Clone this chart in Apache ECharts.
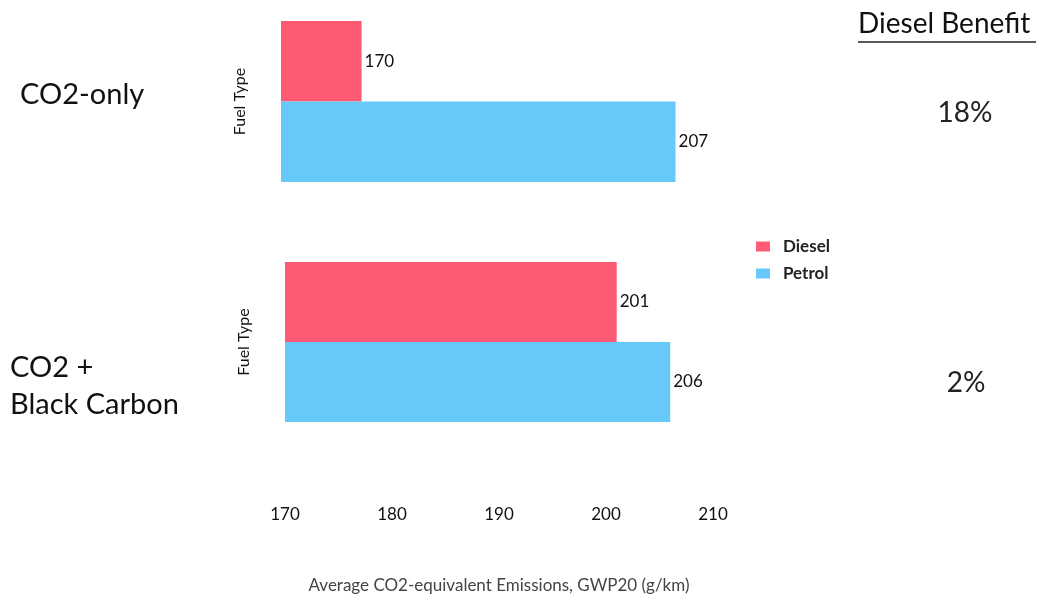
<!DOCTYPE html>
<html>
<head>
<meta charset="utf-8">
<script src="https://cdn.jsdelivr.net/npm/echarts@6/dist/echarts.min.js"></script>
<style>
  html, body { margin: 0; padding: 0; background: #fff; }
  #chart { width: 1041px; height: 597px; }
</style>
</head>
<body>
<div id="chart"></div>
<script>
// data
const fuelTypes = ['Petrol', 'Diesel'];          // category order bottom -> top
const co2OnlyDiesel = ['-', 170];
const co2OnlyPetrol = [207, '-'];
const blackCarbonDiesel = ['-', 201];
const blackCarbonPetrol = [206, '-'];
const tickValues = [170, 180, 190, 200, 210];
const benefits = ['18%', '2%'];

const RED = '#fd5b74';
const BLUE = '#66c9fa';
const FONT = 'Lato';

var myChart = echarts.init(document.getElementById('chart'));

function barSeries(name, color, data, idx) {
    return {
        name: name,
        type: 'bar',
        xAxisIndex: idx,
        yAxisIndex: idx,
        stack: 'p' + idx,
        barCategoryGap: 0,
        data: data,
        itemStyle: { color: color },
        label: {
            show: true,
            position: 'right',
            distance: 3,
            color: '#111',
            fontSize: 17,
            fontFamily: FONT
        }
    };
}

function catAxis(idx) {
    return {
        type: 'category',
        gridIndex: idx,
        data: fuelTypes,
        axisLine: { show: false },
        axisTick: { show: false },
        axisLabel: { show: false },
        name: 'Fuel Type',
        nameLocation: 'middle',
        nameRotate: 90,
        nameGap: 33,
        nameTextStyle: { fontSize: 16, color: '#111', fontFamily: FONT }
    };
}

myChart.setOption({
    animation: false,
    textStyle: { fontFamily: FONT },
    legend: {
        data: ['Diesel', 'Petrol'],
        orient: 'vertical',
        left: 751,
        top: 233,
        itemWidth: 14,
        itemHeight: 10,
        itemGap: 10,
        icon: 'rect',
        textStyle: { fontSize: 17, color: '#222', fontFamily: FONT, fontWeight: 'bold', padding: [0, 0, 0, 8] }
    },
    grid: [
        { left: 281, top: 21, width: 420, height: 161 },
        { left: 285, top: 262, width: 428, height: 160 }
    ],
    xAxis: [
        {
            type: 'value', gridIndex: 0, min: 160.5, max: 210,
            axisLine: { show: false }, axisTick: { show: false },
            axisLabel: { show: false }, splitLine: { show: false }
        },
        {
            type: 'value', gridIndex: 1, min: 170, max: 210, interval: 10,
            axisLine: { show: false }, axisTick: { show: false },
            splitLine: { show: false },
            axisLabel: {
                margin: 84,
                fontSize: 17,
                color: '#111',
                fontFamily: FONT,
                formatter: function (v) { return tickValues.indexOf(v) >= 0 ? String(v) : ''; }
            },
            name: 'Average CO2-equivalent Emissions, GWP20 (g/km)',
            nameLocation: 'middle',
            nameGap: 155,
            nameTextStyle: { fontSize: 17, color: '#444', fontFamily: FONT }
        }
    ],
    yAxis: [catAxis(0), catAxis(1)],
    series: [
        barSeries('Diesel', RED, co2OnlyDiesel, 0),
        barSeries('Petrol', BLUE, co2OnlyPetrol, 0),
        barSeries('Diesel', RED, blackCarbonDiesel, 1),
        barSeries('Petrol', BLUE, blackCarbonPetrol, 1)
    ],
    graphic: [
        { type: 'text', left: 20, top: 80, style: { text: 'CO2-only', fontSize: 29, fill: '#111', fontFamily: FONT } },
        { type: 'text', left: 10, top: 349, style: { text: 'CO2 +\nBlack Carbon', fontSize: 29, lineHeight: 37, fill: '#111', fontFamily: FONT } },
        { type: 'text', left: 858, top: 10, style: { text: 'Diesel Benefit', fontSize: 28, fill: '#111', fontFamily: FONT } },
        { type: 'line', shape: { x1: 858, y1: 42, x2: 1036, y2: 42 }, style: { stroke: '#222', lineWidth: 1.5 } },
        { type: 'text', x: 965, y: 113, style: { text: benefits[0], fontSize: 28, fill: '#222', fontFamily: FONT, align: 'center', verticalAlign: 'middle' } },
        { type: 'text', x: 966, y: 383, style: { text: benefits[1], fontSize: 28, fill: '#222', fontFamily: FONT, align: 'center', verticalAlign: 'middle' } }
    ]
});
window.addEventListener('resize', function () {
    myChart.resize()
});
</script>
</body>
</html>
